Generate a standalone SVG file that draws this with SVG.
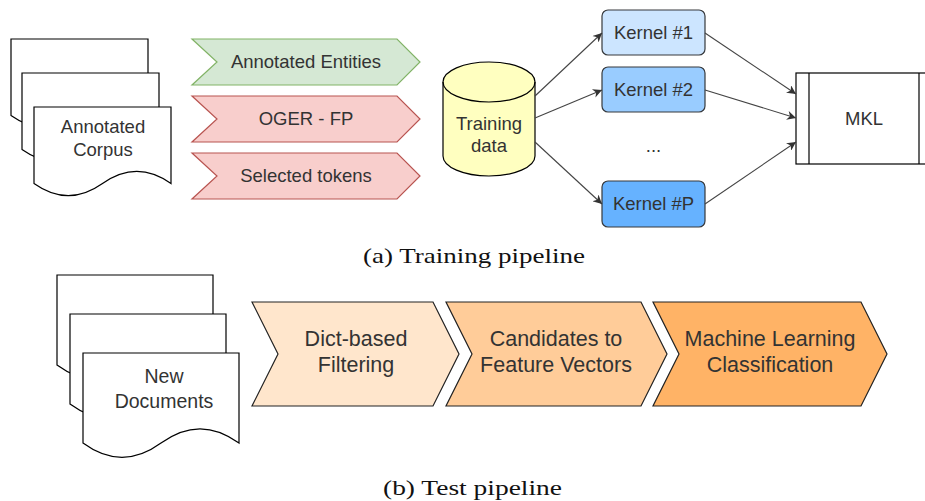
<svg xmlns="http://www.w3.org/2000/svg" width="925" height="501" viewBox="0 0 925 501">
<style>
.doc{fill:#fff;stroke:#000;stroke-width:1.2}
.t{font-family:"Liberation Sans",Arial,Helvetica,sans-serif;fill:#333;text-anchor:middle}
.s{font-size:18.5px}
.b{font-size:21.5px}
.cap{font-family:"Liberation Serif","Times New Roman",serif;font-size:21px;fill:#111}
.green{fill:#d5e8d4;stroke:#82b366;stroke-width:1.2}
.red{fill:#f8cecc;stroke:#b85450;stroke-width:1.2}
.k{stroke:#36393d;stroke-width:1.2}
.conn{stroke:#444;stroke-width:1.1;fill:none;marker-end:url(#arr)}
.chev{stroke:#222;stroke-width:1.2}
</style>
<defs>
<marker id="arr" viewBox="0 0 10 10" refX="10" refY="5" markerWidth="11" markerHeight="9" orient="auto" markerUnits="userSpaceOnUse">
<path d="M0,0 L10,5 L0,10 L3,5 Z" fill="#333"/>
</marker>
</defs>
<rect width="925" height="501" fill="#fff"/>

<g id="annotated-corpus">
<path class="doc" d="M11,39 H148 V115.5 Q113.75,91.2 79.5,115.5 Q45.25,139.8 11,115.5 Z"/>
<path class="doc" d="M22,73 H159 V149.5 Q124.75,125.2 90.5,149.5 Q56.25,173.8 22,149.5 Z"/>
<path class="doc" d="M34,107 H171 V183.5 Q136.75,159.2 102.5,183.5 Q68.25,207.8 34,183.5 Z"/>
<text class="t s" x="103" y="133">Annotated</text>
<text class="t s" x="103" y="156">Corpus</text>
</g>

<g id="annotated-entities">
<path class="green" d="M192,39 H397 L420,62 L397,85 H192 L217,62 Z"/>
<text class="t s" x="306" y="68">Annotated Entities</text>
</g>
<g id="oger-fp">
<path class="red" d="M192,96 H397 L420,119 L397,142 H192 L217,119 Z"/>
<text class="t s" x="306" y="125">OGER - FP</text>
</g>
<g id="selected-tokens">
<path class="red" d="M192,153 H397 L420,176 L397,199 H192 L217,176 Z"/>
<text class="t s" x="306" y="182">Selected tokens</text>
</g>

<g id="training-data">
<path d="M443,82 A46,20 0 0 1 535,82 V156 A46,20 0 0 1 443,156 Z" fill="#ffffc0" stroke="#000" stroke-width="1.2"/>
<path d="M443,82 A46,20 0 0 0 535,82" fill="none" stroke="#000" stroke-width="1.2"/>
<text class="t s" x="489" y="130">Training</text>
<text class="t s" x="489" y="152">data</text>
</g>

<g id="kernel-1">
<rect class="k" x="602" y="10" width="103" height="45" rx="6" fill="#cce5ff"/>
<text class="t s" x="653.5" y="39">Kernel #1</text>
</g>
<g id="kernel-2">
<rect class="k" x="602" y="67" width="103" height="45" rx="6" fill="#99ccff"/>
<text class="t s" x="653.5" y="96">Kernel #2</text>
</g>
<g id="dots">
<text class="t s" x="653.5" y="152">...</text>
</g>
<g id="kernel-p">
<rect class="k" x="602" y="181" width="103" height="46" rx="6" fill="#66b2ff"/>
<text class="t s" x="653.5" y="210">Kernel #P</text>
</g>

<g id="mkl">
<rect x="796" y="73" width="136" height="91" fill="#fff" stroke="#000" stroke-width="1.2"/>
<line x1="809" y1="73" x2="809" y2="164" stroke="#000" stroke-width="1.2"/>
<line x1="919" y1="73" x2="919" y2="164" stroke="#000" stroke-width="1.2"/>
<text class="t s" x="864" y="125">MKL</text>
</g>

<g id="connectors">
<line class="conn" x1="535" y1="96" x2="602" y2="33"/>
<line class="conn" x1="535" y1="118" x2="602" y2="90"/>
<line class="conn" x1="535" y1="142" x2="602" y2="204"/>
<line class="conn" x1="705" y1="33" x2="796" y2="94"/>
<line class="conn" x1="705" y1="90" x2="796" y2="118"/>
<line class="conn" x1="705" y1="204" x2="796" y2="142"/>
</g>

<text class="cap" x="363" y="263" textLength="222" lengthAdjust="spacingAndGlyphs">(a) Training pipeline</text>

<g id="new-documents">
<path class="doc" d="M57,275 H213 V365.1 Q174,336.5 135,365.1 Q96,393.7 57,365.1 Z"/>
<path class="doc" d="M70,314 H226 V404.1 Q187,375.5 148,404.1 Q109,432.7 70,404.1 Z"/>
<path class="doc" d="M83,353 H239 V443.1 Q200,414.5 161,443.1 Q122,471.7 83,443.1 Z"/>
<text class="t" font-size="19.5" x="164" y="383">New</text>
<text class="t" font-size="19.5" x="164" y="408">Documents</text>
</g>

<g id="dict-filtering">
<path class="chev" d="M252,302 H433 L459,354 L433,406 H252 L278,354 Z" fill="#ffe6cc"/>
<text class="t b" x="356" y="346">Dict-based</text>
<text class="t b" x="356" y="372">Filtering</text>
</g>
<g id="feature-vectors">
<path class="chev" d="M446,302 H641 L667,354 L641,406 H446 L472,354 Z" fill="#ffcc99"/>
<text class="t b" x="556" y="346">Candidates to</text>
<text class="t b" x="556" y="372">Feature Vectors</text>
</g>
<g id="ml-classification">
<path class="chev" d="M653,302 H861 L887,354 L861,406 H653 L679,354 Z" fill="#ffb366"/>
<text class="t b" x="770" y="346">Machine Learning</text>
<text class="t b" x="770" y="372">Classification</text>
</g>

<text class="cap" x="383" y="495" textLength="179" lengthAdjust="spacingAndGlyphs">(b) Test pipeline</text>
</svg>
